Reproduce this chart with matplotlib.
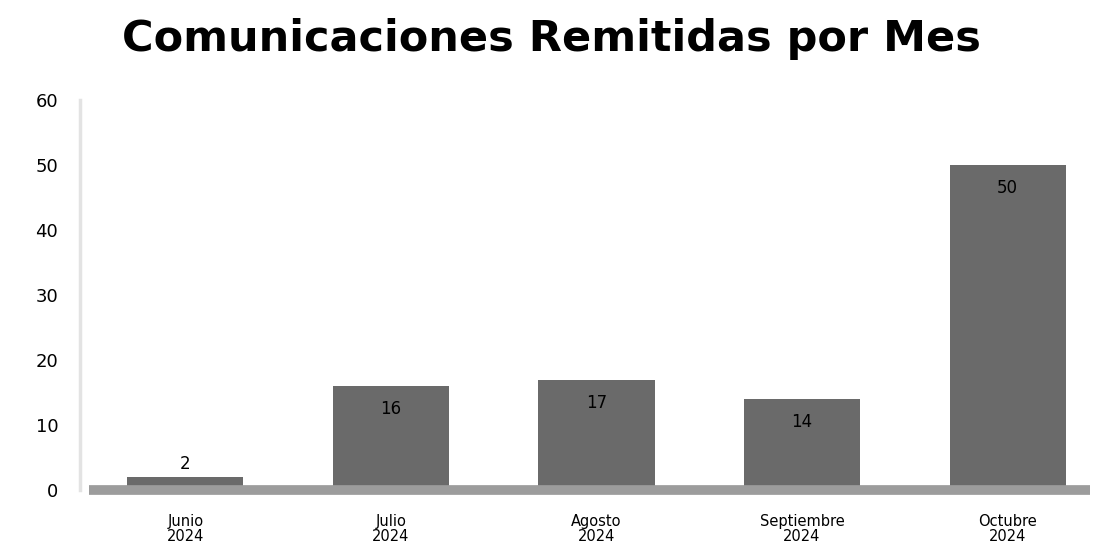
import matplotlib
matplotlib.use("Agg")
import matplotlib.pyplot as plt

# values read from the (pixelated) reference chart
meses = ["Junio\n2024", "Julio\n2024", "Agosto\n2024", "Septiembre\n2024", "Octubre\n2024"]
remitidas = [2, 16, 17, 14, 50]
y_ticks = [0, 10, 20, 30, 40, 50, 60]

fig = plt.figure(figsize=(11.02, 5.5), dpi=100)
ax = fig.add_axes([0.073, 0.109, 0.916, 0.709])

x = range(len(meses))
bars = ax.bar(x, remitidas, width=0.565, color="#6a6a6a", zorder=2)

for rect, val in zip(bars, remitidas):
    h = rect.get_height()
    cx = rect.get_x() + rect.get_width() / 2
    if h < 6:
        ax.text(cx, h + 0.6, str(val), ha="center", va="bottom", fontsize=12, color="black")
    else:
        ax.text(cx, h - 2.2, str(val), ha="center", va="top", fontsize=12, color="black")

# floor line, drawn over the bar bottoms
ax.axhline(0, xmin=0.008, xmax=1.0, color="#9c9c9c", linewidth=7, zorder=3,
           clip_on=False, solid_capstyle="butt")

ax.set_xlim(-0.51, 4.40)
ax.set_ylim(0, 60)
ax.set_yticks(y_ticks)
ax.set_xticks(list(x))
ax.set_xticklabels(meses, fontsize=10.5, linespacing=1.0)
ax.tick_params(axis="y", length=0, labelsize=13, pad=16)
ax.tick_params(axis="x", length=0, pad=17)

for side in ["top", "right", "bottom"]:
    ax.spines[side].set_visible(False)
ax.spines["left"].set_color("#e3e3e3")
ax.spines["left"].set_linewidth(2.5)

fig.suptitle("Comunicaciones Remitidas por Mes", fontsize=31, fontweight="bold", y=0.968)

fig.savefig("out.png", dpi=100)
